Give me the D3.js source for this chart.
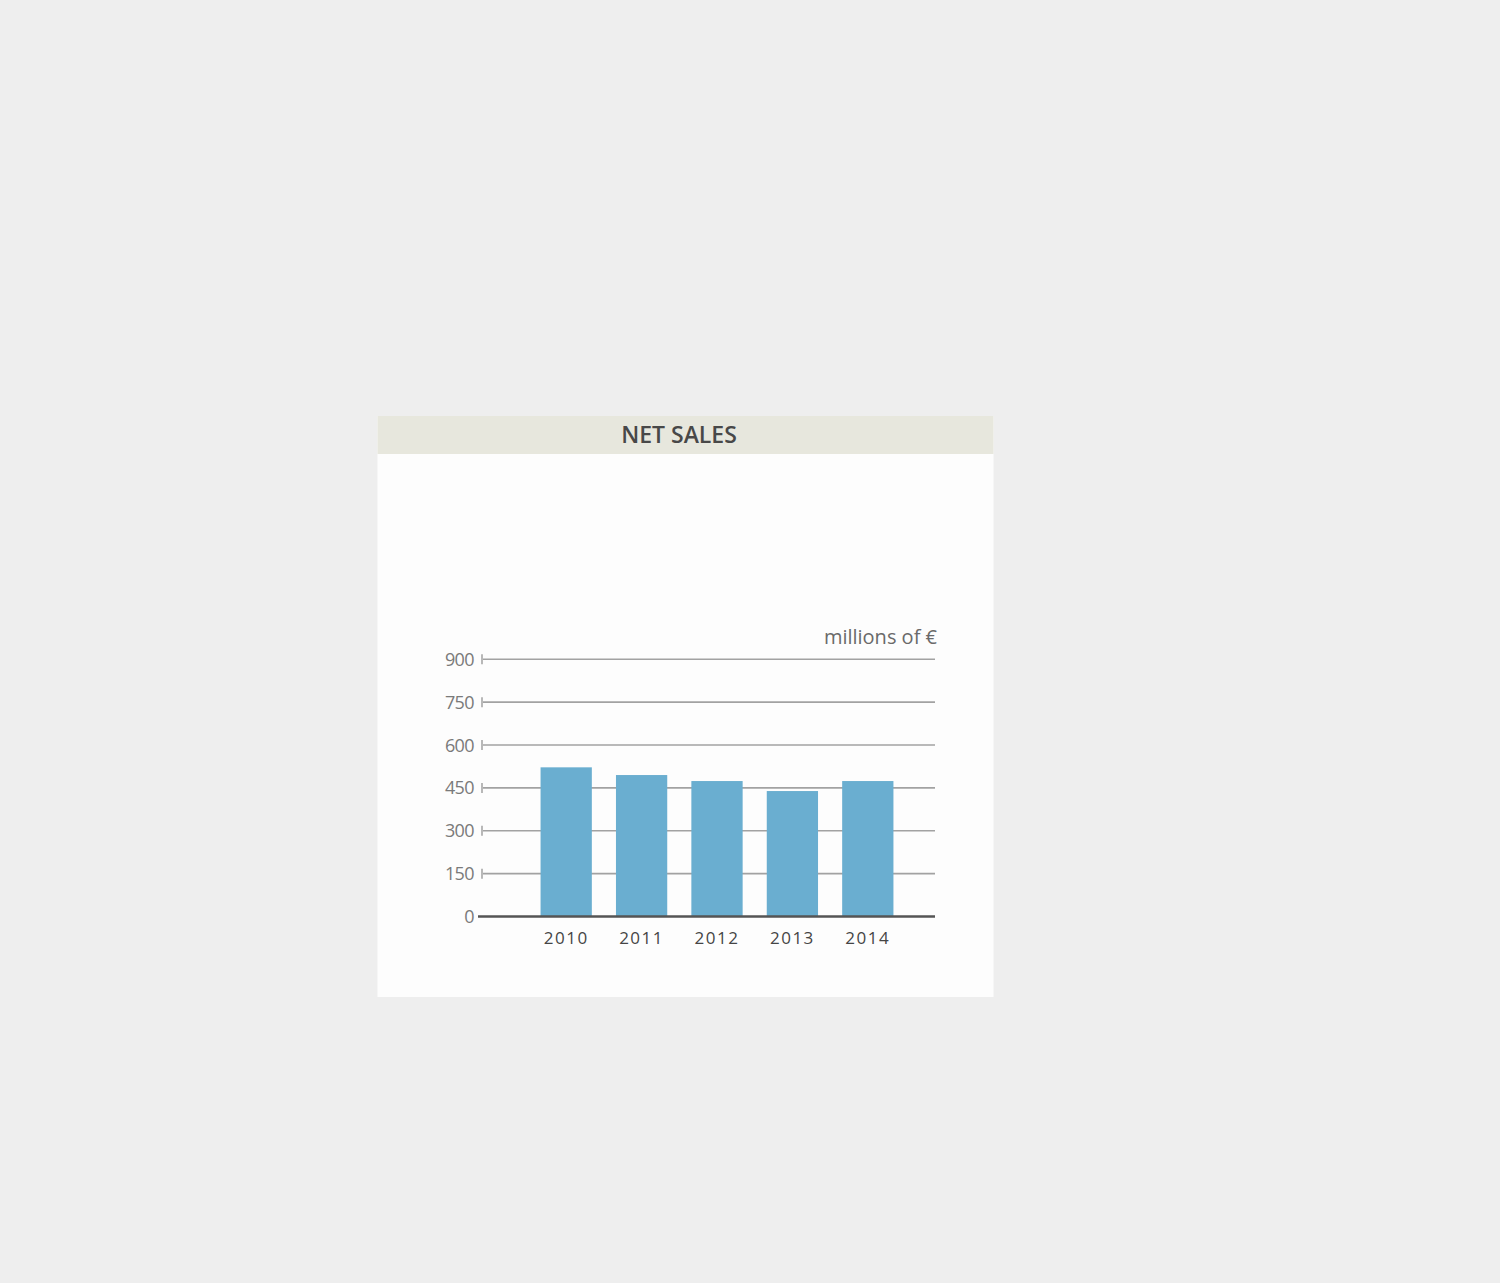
<!DOCTYPE html>
<html>
<head>
<meta charset="utf-8">
<script src="https://cdn.jsdelivr.net/npm/d3@7"></script>
<style>
  html, body { margin: 0; padding: 0; background: #eeeeee; }
  svg { display: block; }
</style>
</head>
<body>
<svg id="chart" width="1500" height="1283"></svg>
<script>
const title = "NET SALES";
const unitLabel = "millions of €";
const years = ["2010", "2011", "2012", "2013", "2014"];
const netSales = [522, 495, 474, 439, 474];
const yTicks = [0, 150, 300, 450, 600, 750, 900];

const svg = d3.select("#chart");
svg.append("rect").attr("width", 1500).attr("height", 1283).attr("fill", "#eeeeee");

// panel
svg.append("rect").attr("x", 377.5).attr("y", 416).attr("width", 616).attr("height", 581).attr("fill", "#fdfdfd");
svg.append("rect").attr("x", 377.5).attr("y", 416).attr("width", 616).attr("height", 38).attr("fill", "#e7e7dd");
svg.append("text").attr("x", 679).attr("y", 443)
  .attr("text-anchor", "middle")
  .attr("font-family", "'Open Sans', sans-serif")
  .attr("font-size", 23).attr("font-weight", 600)
  .attr("fill", "#484848")
  .attr("letter-spacing", 0)
  .text(title);

const y = d3.scaleLinear().domain([0, 900]).range([916.5, 659.3]);
const x = d3.scaleBand().domain(years).range([528.5, 905.5]).paddingInner(0.32).paddingOuter(0.16);

const gridX0 = 483, gridX1 = 935;

// gridlines
svg.append("g").selectAll("line").data(yTicks.filter(d => d > 0)).join("line")
  .attr("x1", gridX0).attr("x2", gridX1)
  .attr("y1", d => y(d)).attr("y2", d => y(d))
  .attr("stroke", "#a2a2a2").attr("stroke-width", 1.6);

// small ticks
svg.append("g").selectAll("line").data(yTicks.filter(d => d > 0)).join("line")
  .attr("x1", 482).attr("x2", 482)
  .attr("y1", d => y(d) - 5).attr("y2", d => y(d) + 5)
  .attr("stroke", "#9a9a9a").attr("stroke-width", 1.4);

// tick labels
svg.append("g").selectAll("text").data(yTicks).join("text")
  .attr("x", 474)
  .attr("y", d => y(d) + 6.5)
  .attr("text-anchor", "end")
  .attr("font-family", "'Open Sans', sans-serif")
  .attr("font-size", 18)
  .attr("fill", "#7a7a7a")
  .attr("letter-spacing", -0.6)
  .text(d => d);

// bars
svg.append("g").selectAll("rect").data(years).join("rect")
  .attr("x", d => x(d))
  .attr("width", x.bandwidth())
  .attr("y", (d, i) => y(netSales[i]))
  .attr("height", (d, i) => y(0) - y(netSales[i]))
  .attr("fill", "#6aaed0");

// baseline
svg.append("line").attr("x1", 478).attr("x2", gridX1)
  .attr("y1", y(0)).attr("y2", y(0))
  .attr("stroke", "#555555").attr("stroke-width", 2.5);

// year labels
svg.append("g").selectAll("text").data(years).join("text")
  .attr("x", d => x(d) + x.bandwidth() / 2)
  .attr("y", 944)
  .attr("text-anchor", "middle")
  .attr("font-family", "'Open Sans', sans-serif")
  .attr("font-size", 17)
  .attr("letter-spacing", 1.5)
  .attr("fill", "#454545")
  .text(d => d);

// unit label
svg.append("text").attr("x", 937).attr("y", 644)
  .attr("text-anchor", "end")
  .attr("font-family", "'Open Sans', sans-serif")
  .attr("font-size", 20)
  .attr("fill", "#6a6a6a")
  .text(unitLabel);
</script>
</body>
</html>
